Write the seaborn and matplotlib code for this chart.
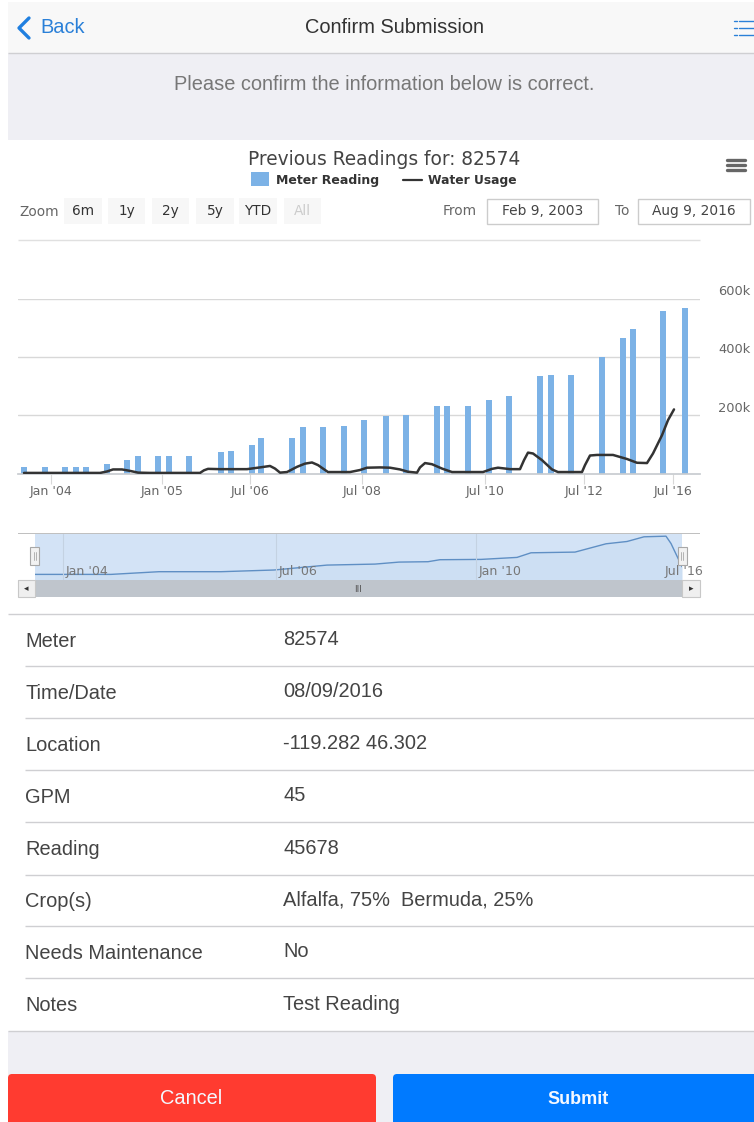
#!/usr/bin/env python
# -*- coding: utf-8 -*-
import pandas as pd
import seaborn as sns
import matplotlib
matplotlib.use('Agg')
import matplotlib.pyplot as plt
from matplotlib.patches import Rectangle, FancyBboxPatch

###############################################################################
# Data
###############################################################################
METER = '82574'
# x is the position along the chart's ordinal axis
barPos = [
    6, 27, 47, 58, 68, 89, 109, 120, 140, 151, 171, 203, 213, 234, 243, 274,
    285, 305, 326, 346, 368, 388, 419, 429, 450, 471, 491, 522, 533, 553, 584,
    605, 615, 645, 667
]
barVal = [
    21, 21, 21, 21, 21, 33, 45, 62, 62, 62, 62, 74, 78, 99, 123, 123, 160,
    160, 165, 186, 198, 201, 234, 234, 234, 255, 266, 337, 341, 341, 402, 467,
    497, 562, 570
]
usePos = [
    6, 82, 89, 95, 104, 112, 120, 132, 182, 186, 190, 202, 229, 242, 252, 257,
    262, 269, 279, 287, 294, 300, 310, 332, 342, 349, 362, 372, 382, 390, 399,
    402, 407, 414, 424, 434, 465, 474, 480, 492, 502, 506, 510, 515, 524, 534,
    540, 564, 567, 572, 579, 595, 609, 619, 629, 635, 644, 650, 656
]
useVal = [
    2, 2, 7, 14, 14, 9, 3, 2, 2, 11, 16, 15, 15, 21, 26, 17, 3, 5, 23, 34, 38,
    29, 5, 5, 12, 20, 21, 20, 14, 6, 3, 21, 36, 32, 17, 5, 5, 16, 20, 15, 15,
    46, 72, 69, 46, 14, 5, 5, 29, 62, 64, 64, 50, 37, 36, 69, 132, 184, 221
]
navPos = [0, 76, 124, 186, 239, 292, 340, 364, 393, 405, 446, 482, 496, 540,
          571, 592, 609, 631, 636, 647]
navVal = [73, 73, 108, 108, 130, 194, 207, 233, 238, 264, 268, 294, 354, 363,
          471, 501, 562, 570, 475, 173]
tickPos = [33, 144, 232, 344, 467, 566, 655]
tickLab = ["Jan '04", "Jan '05", "Jul '06", "Jul '08", "Jul '10", "Jul '12", "Jul '16"]
yVals = [200, 400, 600]
yLabs = ['200k', '400k', '600k']
navTickPos = [28, 241, 441, 647]
navTickLab = ["Jan '04", "Jul '06", "Jan '10", "Jul '16"]
zoomLabs = ['6m', '1y', '2y', '5y', 'YTD', 'All']
rowLabs = ['Meter', 'Time/Date', 'Location', 'GPM', 'Reading', 'Crop(s)',
           'Needs Maintenance', 'Notes']
rowVals = ['82574', '08/09/2016', '-119.282 46.302', '45', '45678',
           'Alfalfa, 75%  Bermuda, 25%', 'No', 'Test Reading']
###############################################################################
# Setup
###############################################################################
sns.set_theme(style='white')
plt.rcParams['font.family'] = ['DejaVu Sans']
(W, H) = (754, 1122)
BAR = '#7cb2e6'
GRAY = '#666666'
UI = ['Liberation Sans']


def px(size):
    return size * 0.72


def axBox(x0, y0, x1, y1, **kw):
    return fig.add_axes([x0 / W, 1 - y1 / H, (x1 - x0) / W, (y1 - y0) / H], **kw)


fig = plt.figure(figsize=(W / 100, H / 100), dpi=100, facecolor='white')
page = fig.add_axes([0, 0, 1, 1])
page.set_xlim(0, W)
page.set_ylim(H, 0)
page.axis('off')


def box(x0, y0, x1, y1, color, **kw):
    page.add_patch(Rectangle((x0, y0), x1 - x0, y1 - y0, facecolor=color, **kw))


def hline(y, x0=25, x1=W, color='#cfcfd2', lw=1.0):
    page.plot([x0, x1], [y, y], color=color, lw=lw, solid_capstyle='butt')


###############################################################################
# Page
###############################################################################
box(8, 2, W, 53, '#f8f8f8', lw=0)
box(8, 53, W, 140, '#efeff4', lw=0)
box(8, 1031, W, H, '#efeff4', lw=0)
hline(53, 8)
page.plot([29, 19, 29], [18, 28, 38], color='#1f7fe0', lw=2.4)
page.text(40, 27, 'Back', color='#2a80d8', fontsize=px(20), family=UI, va='center')
page.text(394.5, 27, 'Confirm Submission', color='#333333', fontsize=px(20),
          family=UI, va='center', ha='center')
for yy in (21, 28, 35):
    page.plot([734, 737], [yy, yy], color='#2a80d8', lw=1)
    page.plot([739, 754], [yy, yy], color='#2a80d8', lw=1)
page.text(384.5, 84, 'Please confirm the information below is correct.', color='#777777',
          fontsize=px(20), family=UI, va='center', ha='center')
# Chart header
page.text(384, 159, 'Previous Readings for: ' + METER, color='#444444',
          fontsize=px(18.6), ha='center', va='center')
box(251, 172, 269, 186, BAR, lw=0)
page.text(276, 180, 'Meter Reading', color='#333333', fontsize=px(12.5),
          weight='bold', va='center')
page.plot([403, 422], [180, 180], color='#333333', lw=1.6)
page.text(428, 180, 'Water Usage', color='#333333', fontsize=px(12.3),
          weight='bold', va='center')
for yy in (160, 165, 170):
    page.plot([727, 745], [yy, yy], color='#666666', lw=2.4)
page.text(19, 212, 'Zoom', color=GRAY, fontsize=px(13.6), va='center')
for (x0, x1, lab) in zip((64, 108, 152, 196, 239, 284), (102, 145, 189, 234, 277, 321), zoomLabs):
    box(x0, 198, x1, 224, '#f7f7f7', lw=0)
    page.text((x0 + x1) / 2, 211, lab, color='#cccccc' if lab == 'All' else '#333333',
              fontsize=px(13.6), ha='center', va='center')
page.text(460, 211, 'From', color=GRAY, fontsize=px(13.6), ha='center', va='center')
page.text(622, 211, 'To', color=GRAY, fontsize=px(13.6), ha='center', va='center')
for (x0, x1, lab) in ((487, 598, 'Feb 9, 2003'), (638, 750, 'Aug 9, 2016')):
    box(x0, 199, x1, 224, 'white', edgecolor='#cccccc', lw=1)
    page.text((x0 + x1) / 2, 211, lab, color='#444444', fontsize=px(13.8),
              ha='center', va='center')
hline(240, 18, 700, '#e0e0e0')
###############################################################################
# Main chart
###############################################################################
df = pd.DataFrame({'pos': barPos, 'val': barVal})
use = pd.DataFrame({'pos': usePos, 'val': useVal})
ax = axBox(18, 299.5, 700, 473.5)
ax.patch.set_alpha(0)
sns.barplot(data=df, x='pos', y='val', native_scale=True, width=6 / 9, color=BAR,
            saturation=1, lw=0, errorbar=None, ax=ax, zorder=2)
sns.lineplot(data=use, x='pos', y='val', color='#333333', lw=1.8, ax=ax, zorder=3,
             errorbar=None, estimator=None)
ax.set_xlim(0, 682)
ax.set_ylim(0, 600)
ax.set_xlabel('')
ax.set_ylabel('')
ax.set_xticks(tickPos, tickLab, color=GRAY, fontsize=px(12.6))
ax.set_yticks(yVals, [])
ax.grid(axis='y', color='#d8d8d8', lw=1)
ax.set_axisbelow(True)
ax.tick_params(axis='x', length=7.5, width=0.8, color='#d8d8d8', pad=0.5, bottom=True)
sns.despine(ax=ax, left=True, top=True, right=True)
ax.spines['bottom'].set_color('#c8ccd0')
for (v, lab) in zip(yVals, yLabs):
    ax.annotate(lab, (1, v), xycoords=('axes fraction', 'data'), xytext=(18, 1),
                textcoords='offset pixels', color=GRAY, fontsize=px(13), va='bottom')
###############################################################################
# Navigator
###############################################################################
nav = pd.DataFrame({'pos': navPos, 'val': navVal})
box(18, 533, 700, 534, '#c0c0c0', lw=0)
axN = axBox(35, 533.5, 682, 580)
axN.set_facecolor('#d3e3f6')
sns.lineplot(data=nav, x='pos', y='val', color='#5f8fc4', lw=1, ax=axN,
             errorbar=None, estimator=None)
axN.fill_between(navPos, navVal, color='#cddff3', lw=0)
axN.set_xlim(0, 647)
axN.set_ylim(0, 605)
axN.set_xlabel('')
axN.set_ylabel('')
axN.set_yticks([])
axN.set_xticks([])
for p in navTickPos:
    axN.axvline(p, color='#c4d2e2', lw=0.8)
for (p, lab) in zip(navTickPos, navTickLab):
    ha = 'center' if lab == "Jul '16" else 'left'
    axN.annotate(lab, (p, 0), xycoords=('data', 'axes fraction'),
                 xytext=(3 if ha == 'left' else 2, 9), textcoords='offset pixels',
                 color='#777777', fontsize=px(12.6), va='center', ha=ha, annotation_clip=False)
sns.despine(ax=axN, left=True, bottom=True, top=True, right=True)
# Scrollbar
box(18, 580, 700, 597, '#bfc5cc', lw=0, zorder=3)
for (x0, x1, mark) in ((18, 35, '◂'), (682, 700, '▸')):
    box(x0, 580, x1, 597, '#efefef', edgecolor='#c8c8c8', lw=0.8, zorder=3)
    page.text((x0 + x1) / 2, 588.5, mark, color='#333333', fontsize=px(9),
              ha='center', va='center', zorder=4)
page.text(358, 589, 'III', color='#555555', fontsize=px(9), ha='center', va='center', zorder=4)
page.set_zorder(5)
for xx in (34.5, 682):
    box(xx - 4.5, 547, xx + 4.5, 565, '#f2f2f2', edgecolor='#a8a8a8', lw=0.8, zorder=5)
    page.plot([xx - 1, xx - 1], [552, 560], color='#a8a8a8', lw=0.6, zorder=6)
    page.plot([xx + 1, xx + 1], [552, 560], color='#a8a8a8', lw=0.6, zorder=6)
###############################################################################
# Table and buttons
###############################################################################
rowLines = [614, 666, 718, 770, 822, 875, 926, 978, 1031]
hline(rowLines[0], 8)
for (i, (lab, val)) in enumerate(zip(rowLabs, rowVals)):
    yMid = (rowLines[i] + rowLines[i + 1]) / 2 + 1
    page.text(25, yMid, lab, color='#444444', fontsize=px(20), family=UI, va='center')
    page.text(283, yMid - 1.5, val, color='#444444', fontsize=px(20), family=UI, va='center')
    hline(rowLines[i + 1], 8 if i == 7 else 25)
for (x0, x1, color, lab, wt) in ((8, 376, '#ff3b30', 'Cancel', 'normal'), (393, 760, '#007aff', 'Submit', 'bold')):
    page.add_patch(FancyBboxPatch((x0 + 4, 1078), x1 - x0 - 8, 60, boxstyle='round,pad=4',
                                  facecolor=color, lw=0))
    page.text(191.5 if x0 == 8 else 578, 1098 if x0 == 8 else 1099, lab, color='#f4f8ff',
              fontsize=px(20 if x0 == 8 else 18), family=UI, ha='center', va='center', weight=wt)
page.set_xlim(0, W)
page.set_ylim(H, 0)
fig.savefig('out.png', dpi=100)
